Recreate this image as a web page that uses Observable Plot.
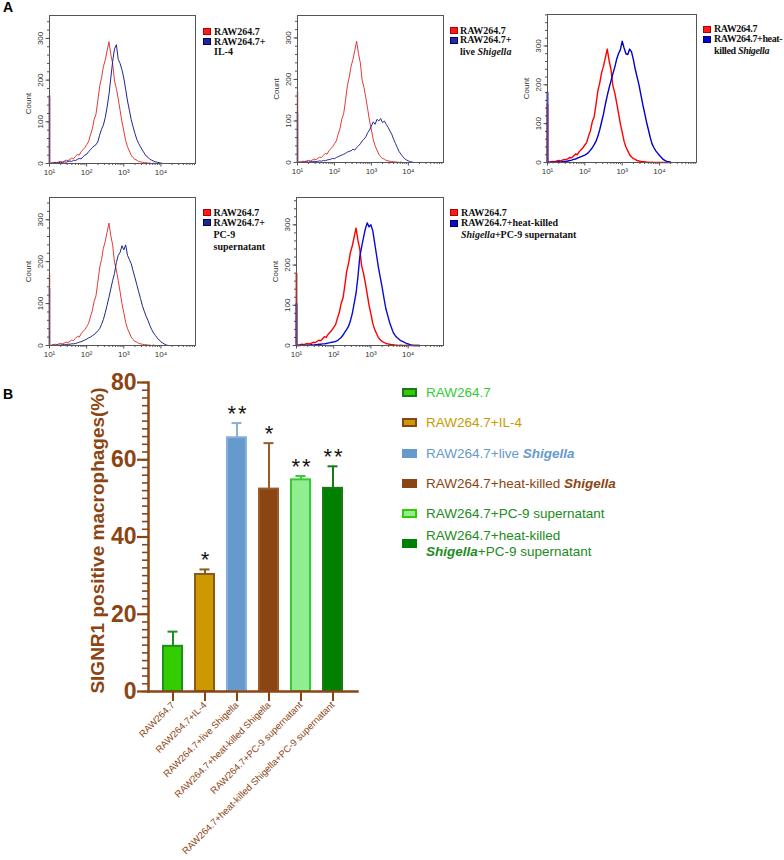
<!DOCTYPE html>
<html><head><meta charset="utf-8">
<script src="https://cdn.jsdelivr.net/npm/d3@7"></script>
<script src="https://cdn.jsdelivr.net/npm/@observablehq/plot@0.6"></script>
<style>
body{margin:0;background:#fff;}
#page{position:relative;width:784px;height:860px;overflow:hidden;background:#fff;font-family:"Liberation Sans",Arial,sans-serif;}
.panelLetter{position:absolute;font-family:"Liberation Sans",Arial,sans-serif;font-weight:bold;font-size:14px;line-height:14px;color:#000;}
.hl{position:absolute;font-family:"Liberation Serif","Times New Roman",serif;font-weight:bold;font-size:10px;line-height:10px;color:#111;white-space:nowrap;}
.hsq{position:absolute;width:8px;height:7px;box-sizing:border-box;}
.lbText{position:absolute;font-family:"Liberation Sans",Arial,sans-serif;font-size:13.5px;line-height:16.3px;white-space:nowrap;}
.lbSq{position:absolute;width:15px;height:9px;box-sizing:border-box;}
svg{position:absolute;}
</style></head>
<body><div id="page"></div>
<script>
// ---------------- DATA ----------------
// Panel A: flow cytometry histograms (log10 fluorescence bins, counts)
const binLog = [1.00,1.05,1.10,1.15,1.20,1.25,1.30,1.35,1.40,1.45,1.50,1.55,1.60,1.65,1.70,1.75,1.80,1.85,1.90,1.95,2.00,2.05,2.10,2.15,2.20,2.25,2.30,2.35,2.40,2.45,2.50,2.55,2.60,2.65,2.70,2.75,2.80,2.85,2.90,2.95,3.00,3.05,3.10,3.15,3.20,3.25,3.30,3.35,3.40,3.45,3.50,3.55,3.60,3.65,3.70,3.75,3.80,3.85,3.90,3.95,4.00,4.05,4.10,4.15,4.20,4.25,4.30];
const rawCounts = [0,1,2,3,2,4,5,4,6,8, 7,10,13,12,17,22,20,28,33,38, 45,52,68,82,105,118,150,185,205,232, 248,270,292,262,240,198,180,155,128,100, 78,55,40,30,20,14,10,8,5,4, 3,2,2,1,1,0,1,0,0,0, 0,0,0,0,0,0,0];
const il4Counts = [0,1,1,2,1,2,3,2,4,3, 5,6,5,8,7,10,12,11,16,20, 22,28,33,38,42,45,52,68,82,92, 110,135,165,205,245,275,285,250,240,225, 205,178,150,128,105,88,72,58,48,40, 32,25,18,15,10,8,6,4,3,2, 1,0,0,0,0,0,0];
const liveCounts = [0,1,0,1,1,2,1,2,2,3, 2,3,4,3,5,4,6,7,8,10, 9,12,14,16,18,20,22,25,27,28, 32,30,36,40,45,52,56,62,72,78, 88,98,92,104,100,106,96,100,92,85, 76,68,56,46,36,26,20,14,9,6, 4,2,1,0,0,0,0];
const hkCounts = [0,0,1,0,1,1,2,1,2,3, 3,4,5,6,8,9,11,13,15,17, 19,22,26,32,38,46,55,68,85,105, 125,150,172,192,210,228,245,265,280,290, 312,295,280,278,292,285,265,240,220,200, 175,150,128,105,85,65,48,38,30,24, 18,13,8,5,3,2,0];
const pc9Counts = [0,0,1,0,1,1,1,2,2,2, 3,3,4,4,5,6,8,9,11,13, 15,18,20,23,26,30,35,40,50,62, 78,96,115,135,155,172,198,215,222,238, 228,240,215,205,195,178,162,145,128,112, 95,82,70,60,48,38,30,24,18,13, 9,6,3,1,0,0,0];
const hkpcCounts = [0,0,0,1,0,1,1,1,2,1, 2,2,3,3,4,4,5,6,7,8, 9,10,12,16,20,26,33,40,48,62, 80,105,130,170,220,245,268,290,305,295, 300,285,255,225,195,170,145,118,92,75, 58,45,32,25,20,16,12,10,8,5, 4,2,1,0,0,0,0];
// counts piled up at the lowest channel (left edge)
const edgeCtrl = [160, 169, 150, 170, 179];
const edgeTrt  = [163, 121, 181, 136, 104];
const histXTicks = [10, 100, 1000, 10000];
const histXTickLabels = ["10\u00B9", "10\u00B2", "10\u00B3", "10\u2074"];
const histYTicks = [0, 100, 200, 300];
const histLegends = [
  ["RAW264.7", "RAW264.7+", "IL-4"],
  ["RAW264.7", "RAW264.7+", "live <i>Shigella</i>"],
  ["RAW264.7", "RAW264.7+heat-", "killed <i>Shigella</i>"],
  ["RAW264.7", "RAW264.7+", "PC-9", "supernatant"],
  ["RAW264.7", "RAW264.7+heat-killed", "<i>Shigella</i>+PC-9 supernatant"]
];

// Panel B: SIGNR1 positive macrophages (%)
const groups = ["RAW264.7", "RAW264.7+IL-4", "RAW264.7+live Shigella", "RAW264.7+heat-killed Shigella", "RAW264.7+PC-9 supernatant", "RAW264.7+heat-killed Shigella+PC-9 supernatant"];
const means = [11.7, 30.3, 65.7, 52.4, 54.8, 52.6];
const sds = [3.8, 1.3, 3.8, 11.9, 1.0, 5.7];
const stars = ["", "*", "**", "*", "**", "**"];
const barYTicks = [0, 20, 40, 60, 80];
const legendBHtml = [
  "RAW264.7",
  "RAW264.7+IL-4",
  "RAW264.7+live <b><i>Shigella</i></b>",
  "RAW264.7+heat-killed <b><i>Shigella</i></b>",
  "RAW264.7+PC-9 supernatant",
  "RAW264.7+heat-killed<br><b><i>Shigella</i></b>+PC-9 supernatant"
];

// ---------------- STYLE ----------------
const brown = "#8b4513";
const barFill   = ["#33cc00", "#cc9900", "#6699cc", "#8b4513", "#90ee90", "#008000"];
const barStroke = ["#1f8f1f", "#8b5a1b", "#88b0dc", "#9a5a2a", "#33cc33", "#1a7a1a"];
const legendTextColor = ["#33cc33", "#cc9900", "#6699cc", "#8b4513", "#228b22", "#228b22"];
const legendSqStroke = ["#1a7a1a", "#8b4513", "#6699cc", "#8b4513", "#33cc00", "#008000"];

const page = document.getElementById("page");

// panel letters
for (const [t, l, tp] of [["A", 3, 0], ["B", 3, 387]]) {
  const d = document.createElement("div");
  d.className = "panelLetter"; d.textContent = t;
  d.style.left = l + "px"; d.style.top = tp + "px";
  page.appendChild(d);
}

// ---------------- PANEL A ----------------
const panels = [
  {left: 49,  right: 195, top: 15,  bottom: 163, xmax: 4.93, ymax: 355, counts: il4Counts,  ctrlColor: "#e23a3a", trtColor: "#22229a", sw: 1,   countDy: 14, legX: 203, legTextX: 214, legRows: [31.7, 41.7, 52.3]},
  {left: 297, right: 443, top: 15,  bottom: 162, xmax: 4.95, ymax: 354, counts: liveCounts, ctrlColor: "#e23a3a", trtColor: "#2a2aa0", sw: 1,   countDy: 0,  legX: 450, legTextX: 460, legRows: [30.7, 40.5, 52.3]},
  {left: 547, right: 696, top: 14,  bottom: 162, xmax: 4.99, ymax: 381, counts: hkCounts,   ctrlColor: "#ff0000", trtColor: "#0000cc", sw: 1.4, countDy: 0,  legX: 703, legTextX: 714, legRows: [29, 39.3, 51]},
  {left: 49,  right: 195, top: 197, bottom: 345, xmax: 4.93, ymax: 353, counts: pc9Counts,  ctrlColor: "#e23a3a", trtColor: "#1a2a80", sw: 1,   countDy: 0,  legX: 203, legTextX: 213.5, legRows: [212.7, 222.7, 235.3, 246.7]},
  {left: 296, right: 443, top: 197, bottom: 345, xmax: 4.95, ymax: 368, counts: hkpcCounts, ctrlColor: "#ff0000", trtColor: "#0a0ad0", sw: 1.4, countDy: 0,  legX: 450, legTextX: 461, legRows: [212.7, 223.3, 235]}
];

const xMinor = [];
for (const dec of [10, 100, 1000, 10000]) for (const m of [2,3,4,5,6,7,8,9]) xMinor.push(m * dec);
const yMinor = [];
for (let v = 0; v <= 380; v += 20) yMinor.push(v);

panels.forEach((p, k) => {
  const ML = 45, MR = 6, MT = 6, MB = 22;
  const fw = p.right - p.left, fh = p.bottom - p.top;
  const ctrl = binLog.map((l, i) => ({x: Math.pow(10, l), y: rawCounts[i]}));
  const trt = binLog.map((l, i) => ({x: Math.pow(10, l), y: p.counts[i]}));
  const xmaxV = Math.pow(10, p.xmax);
  const svg = Plot.plot({
    width: fw + ML + MR, height: fh + MT + MB,
    marginLeft: ML, marginRight: MR, marginTop: MT, marginBottom: MB,
    x: {type: "log", domain: [10, xmaxV]},
    y: {domain: [0, p.ymax]},
    style: {fontFamily: "'Liberation Sans Narrow','Liberation Sans',Arial,sans-serif", fontSize: "8px", color: "#333", background: "none", overflow: "visible"},
    marks: [
      Plot.axisX({ticks: xMinor.filter(v => v <= xmaxV), tickSize: 2, text: null, label: null, stroke: "#555"}),
      Plot.axisX({ticks: histXTicks, tickSize: 3.5, tickPadding: 2, fontSize: 8, fill: "#333", stroke: "#555", label: null,
        tickFormat: d => histXTickLabels[histXTicks.indexOf(d)]}),
      Plot.axisY({ticks: yMinor.filter(v => v <= p.ymax), tickSize: 2, text: null, label: null, stroke: "#555"}),
      Plot.axisY({ticks: histYTicks, tickSize: 3.5, tickPadding: 3, tickRotate: -90, fontSize: 8, fill: "#333", stroke: "#555", label: null}),
      Plot.text(["Count"], {frameAnchor: "left", textAnchor: "middle", dx: -21, dy: p.countDy, rotate: -90, fontSize: 8, fill: "#333"}),
      Plot.ruleX([10], {y1: 0, y2: edgeCtrl[k], stroke: p.ctrlColor, strokeWidth: p.sw + 0.4}),
      Plot.line(ctrl, {x: "x", y: "y", stroke: p.ctrlColor, strokeWidth: p.sw}),
      Plot.ruleX([10], {y1: 0, y2: edgeTrt[k], stroke: p.trtColor, strokeWidth: p.sw + 0.4}),
      Plot.line(trt, {x: "x", y: "y", stroke: p.trtColor, strokeWidth: p.sw}),
      Plot.frame({stroke: "#555", strokeWidth: 1})
    ]
  });
  svg.style.left = (p.left - ML) + "px";
  svg.style.top = (p.top - MT) + "px";
  page.appendChild(svg);

  // legend
  const lines = histLegends[k];
  lines.forEach((txt, i) => {
    const cy = p.legRows[i];
    const d = document.createElement("div");
    d.className = "hl"; d.innerHTML = txt;
    d.style.left = p.legTextX + "px"; d.style.top = (cy - 5.2) + "px";
    if (k === 2) d.style.letterSpacing = "-0.35px";
    page.appendChild(d);
  });
  [["#ff1a1a", "#b00000"], [p.trtColor, "#000060"]].forEach(([c, s], i) => {
    const sq = document.createElement("div");
    sq.className = "hsq";
    sq.style.left = p.legX + "px"; sq.style.top = (p.legRows[i] - 3.5) + "px";
    sq.style.background = c; sq.style.border = "1px solid " + s;
    page.appendChild(sq);
  });
});

// ---------------- PANEL B ----------------
const barData = groups.map((g, i) => ({group: g, mean: means[i], upper: means[i] + sds[i], star: stars[i], fill: barFill[i], stroke: barStroke[i]}));
const yMinorB = [];
for (let v = 0; v <= 80; v += 2) yMinorB.push(v);

const barSvg = Plot.plot({
  width: 400, height: 500,
  marginLeft: 148, marginRight: 43, marginTop: 22, marginBottom: 169,
  x: {domain: groups, paddingInner: 0.4, paddingOuter: 0.37},
  y: {domain: [0, 80]},
  style: {fontFamily: "'Liberation Sans',Arial,sans-serif", background: "none", overflow: "visible"},
  marks: [
    Plot.barY(barData, {x: "group", y: "mean", fill: "fill", stroke: "stroke", strokeWidth: 2}),
    Plot.ruleX(barData, {x: "group", y1: "mean", y2: "upper", stroke: "stroke", strokeWidth: 2}),
    Plot.tickY(barData, {x: "group", y: "upper", stroke: "stroke", strokeWidth: 2, inset: 4.5}),
    Plot.text(barData, {x: "group", y: "upper", text: d => d.star.split("").join("\u200A"), dy: -9.5, fontSize: 22, fill: "#111"}),
    Plot.axisY({ticks: yMinorB, tickSize: 6, text: null, label: null, stroke: brown, strokeWidth: 1.6}),
    Plot.axisY({ticks: barYTicks, tickSize: 11, tickPadding: 1, fontSize: 23, fontWeight: "bold", fill: brown, stroke: brown, strokeWidth: 2.2, label: null}),
    Plot.axisX({tickSize: 10, tickRotate: -45, tickPadding: 2, fontSize: 9.5, fill: brown, stroke: brown, strokeWidth: 2, label: null}),
    Plot.frame({anchor: "left", stroke: brown, strokeWidth: 2.5}),
    Plot.frame({anchor: "bottom", stroke: brown, strokeWidth: 2.5}),
    Plot.text(["SIGNR1 positive macrophages(%)"], {frameAnchor: "left", textAnchor: "middle", dx: -51, dy: 3.5, rotate: -90, fontSize: 19, fontWeight: "bold", fill: brown})
  ]
});
barSvg.style.left = "0px";
barSvg.style.top = "360px";
page.appendChild(barSvg);

// legend B
const legRowsB = [392.3, 422.3, 453.3, 483.3, 513.3, 543.8];
legendBHtml.forEach((h, i) => {
  const cy = legRowsB[i];
  const sq = document.createElement("div");
  sq.className = "lbSq";
  sq.style.left = "402px"; sq.style.top = (cy - 4.5) + "px";
  sq.style.background = barFill[i];
  sq.style.border = "2px solid " + legendSqStroke[i];
  page.appendChild(sq);
  const t = document.createElement("div");
  t.className = "lbText";
  t.innerHTML = h;
  t.style.color = legendTextColor[i];
  t.style.left = "426px";
  const nLines = h.includes("<br>") ? 2 : 1;
  t.style.top = (cy - 7.8 - (nLines - 1) * 8.15) + "px";
  page.appendChild(t);
});
</script>
</body></html>
